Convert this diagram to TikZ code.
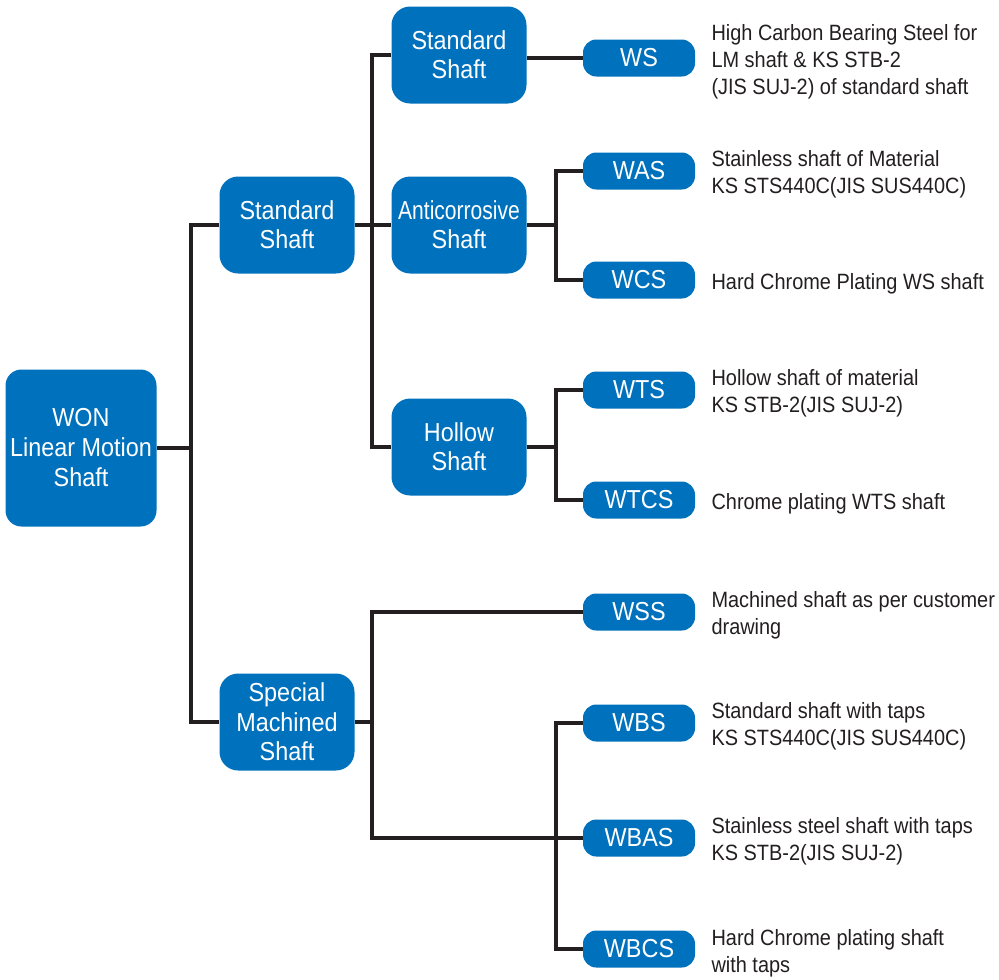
\documentclass[tikz,border=0pt]{standalone}
\usepackage{fontspec}
\setmainfont[FakeStretch=0.9]{Liberation Sans}
\newfontfamily\narrowfont[FakeStretch=0.81]{Liberation Sans}

\begin{document}
\begin{tikzpicture}[x=0.75pt,y=-0.75pt,line join=miter]

% Colors
\definecolor{shaftblue}{RGB}{0,113,188}
\definecolor{linegray}{RGB}{35,31,32}

% Box and text styles
\tikzset{
  rootbox/.style={fill=shaftblue,rounded corners=12pt,minimum width=113.25pt,minimum height=117.75pt,
    inner sep=0pt,text=white,align=center,font=\fontsize{19.5}{22.5}\selectfont},
  groupbox/.style={fill=shaftblue,rounded corners=14pt,minimum width=101.25pt,minimum height=72.75pt,
    inner sep=0pt,text=white,align=center,font=\fontsize{19.5}{22}\selectfont},
  codebox/.style={fill=shaftblue,rounded corners=10pt,minimum width=84pt,minimum height=27.75pt,
    inner sep=0pt,text=white,font=\fontsize{19.5}{22}\selectfont},
  desc/.style={anchor=west,inner sep=0pt,xshift=12pt,yshift=-2.5pt,align=left,text=linegray,
    font=\fontsize{16.6}{20.25}\selectfont},
  link/.style={draw=linegray,line width=2.4pt}
}

\useasboundingbox (0,0) rectangle (999,979);

% Root
\node[rootbox] (root) at (81,448) {WON\\Linear Motion\\Shaft};

% First level
\node[groupbox] (stdone) at (287,225) {Standard\\Shaft};
\node[groupbox] (special) at (287,722) {Special\\Machined\\Shaft};

% Second level
\node[groupbox] (stdtwo) at (459,55) {Standard\\Shaft};
\node[groupbox] (anticor) at (459,225) {{\narrowfont Anticorrosive}\\Shaft};
\node[groupbox] (hollow) at (459,447) {Hollow\\Shaft};

% Shaft codes
\node[codebox] (ws) at (639,58) {WS};
\node[codebox] (was) at (639,171) {WAS};
\node[codebox] (wcs) at (639,280) {WCS};
\node[codebox] (wts) at (639,390) {WTS};
\node[codebox] (wtcs) at (639,500) {WTCS};
\node[codebox] (wss) at (639,612) {WSS};
\node[codebox] (wbs) at (639,723) {WBS};
\node[codebox] (wbas) at (639,838) {WBAS};
\node[codebox] (wbcs) at (639,949) {WBCS};

% Descriptions
\node[desc] (dws) at (ws.east) {High Carbon Bearing Steel for\\LM shaft \& KS STB-2\\(JIS SUJ-2) of standard shaft};
\node[desc] (dwas) at (was.east) {Stainless shaft of Material\\KS STS440C(JIS SUS440C)};
\node[desc] (dwcs) at (wcs.east) {Hard Chrome Plating WS shaft};
\node[desc] (dwts) at (wts.east) {Hollow shaft of material\\KS STB-2(JIS SUJ-2)};
\node[desc] (dwtcs) at (wtcs.east) {Chrome plating WTS shaft};
\node[desc] (dwss) at (wss.east) {Machined shaft as per customer\\drawing};
\node[desc] (dwbs) at (wbs.east) {Standard shaft with taps\\KS STS440C(JIS SUS440C)};
\node[desc] (dwbas) at (wbas.east) {Stainless steel shaft with taps\\KS STB-2(JIS SUJ-2)};
\node[desc,yshift=-0.5pt] (dwbcs) at (wbcs.east) {Hard Chrome plating shaft\\with taps};

% Junction points
\coordinate (jroot) at (191,448);
\coordinate (jstd) at (372,225);
\coordinate (janti) at (556,225);
\coordinate (jhol) at (556,447);
\coordinate (jspec) at (372,722);
\coordinate (jtap) at (556,838);

% Connectors
\draw[link] (root.east) -- (jroot);
\draw[link] (stdone.west) -| (jroot) |- (special.west);
\draw[link] (stdone.east) -- (anticor.west);
\draw[link] (stdtwo.west) -| (jstd) |- (hollow.west);
\draw[link] (ws.west) -- (ws.west -| stdtwo.east);
\draw[link] (anticor.east) -- (janti);
\draw[link] (was.west) -| (janti) |- (wcs.west);
\draw[link] (hollow.east) -- (jhol);
\draw[link] (wts.west) -| (jhol) |- (wtcs.west);
\draw[link] (special.east) -- (jspec);
\draw[link] (wss.west) -| (jspec) |- (wbas.west);
\draw[link] (wbs.west) -| (jtap) |- (wbcs.west);

\end{tikzpicture}
\end{document}
